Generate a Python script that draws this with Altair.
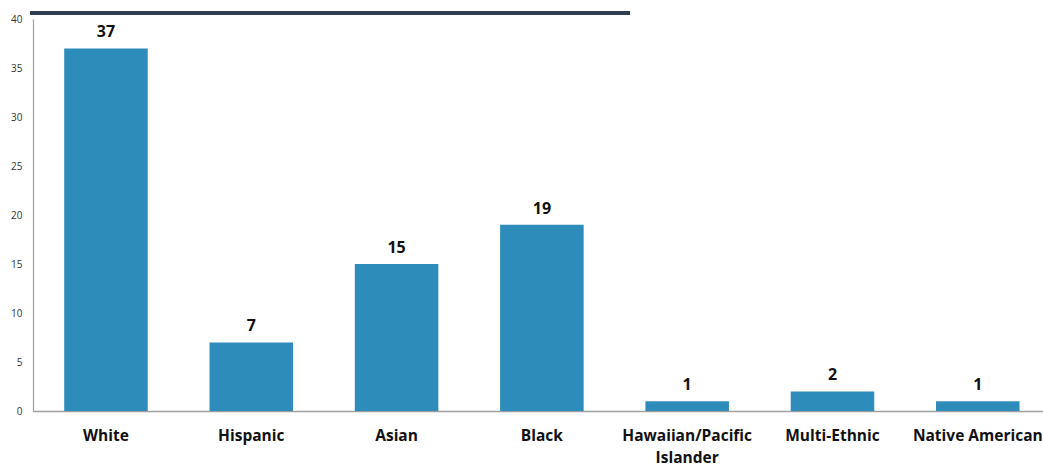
import altair as alt
import pandas as pd

categories = ["White", "Hispanic", "Asian", "Black", "Hawaiian/Pacific Islander", "Multi-Ethnic", "Native American"]
values = [37, 7, 15, 19, 1, 2, 1]

df = pd.DataFrame({"cat": categories, "val": values})

x = alt.X("cat:N", sort=categories, title=None,
          scale=alt.Scale(paddingInner=0.425, paddingOuter=0.188, align=0.571),
          axis=alt.Axis(labelAngle=0, labelFont="Open Sans", labelFontWeight="bold",
                        labelFontSize=15.5, labelColor="#111", labelPadding=17,
                        labelLineHeight=22,
                        ticks=False, domainColor="#a0a0a0", domainWidth=1.5,
                        labelLimit=300,
                        labelExpr="datum.label == 'Hawaiian/Pacific Islander' ? ['Hawaiian/Pacific','Islander'] : datum.label"))
y = alt.Y("val:Q", title=None,
          scale=alt.Scale(domain=[0, 40]),
          axis=alt.Axis(values=[0, 5, 10, 15, 20, 25, 30, 35, 40], grid=False, ticks=False,
                        labelFont="Open Sans", labelFontSize=10, labelColor="#333",
                        labelPadding=11, domainColor="#a0a0a0", domainWidth=1.2))

bars = alt.Chart(df).mark_bar(color="#2E8CBA").encode(x=x, y=y)
labels = alt.Chart(df).mark_text(font="Open Sans", fontWeight="bold", fontSize=16,
                                 baseline="bottom", dy=-8, color="#111").encode(
    x=alt.X("cat:N", sort=categories), y="val:Q", text="val:Q")
topline = alt.Chart(df).mark_rule(color="#2F3D4E", strokeWidth=3.5).encode(
    x=alt.value(-3), x2=alt.value(597), y=alt.value(-6))

chart = alt.layer(bars, labels, topline).properties(
    width=1010, height=392,
    autosize=alt.AutoSizeParams(type="none"),
    padding={"left": 33, "top": 19, "right": 0, "bottom": 55},
).configure_view(stroke=None)

chart.save("out.html", embed_options={"renderer": "svg", "actions": False})
